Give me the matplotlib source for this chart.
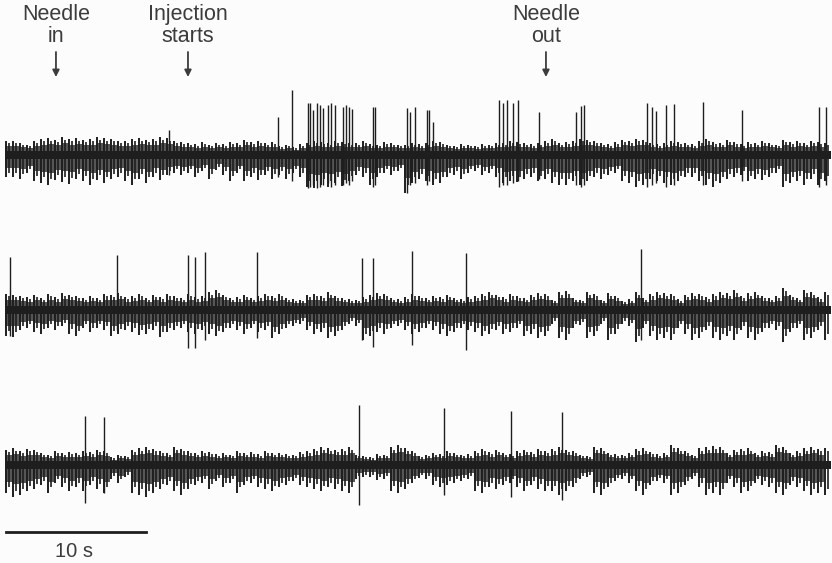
import numpy as np
import matplotlib.pyplot as plt

# Three consecutive sweeps of the same unit recording, ~59 s each.
# Background activity: peak excursion above / below baseline in 0.5 s bins.
BIN = 0.5

sweep1_up = [14, 14, 12, 10, 14, 16, 17, 15, 18, 16, 17, 15, 16, 18, 17, 16, 14,
             14, 16, 17, 15, 16, 18, 17, 14, 13, 12, 11, 13, 10, 12, 11, 13, 12,
             15, 13, 14, 12, 13, 9, 10, 8, 11, 12, 14, 13, 12, 14, 13, 12,
             12, 14, 11, 10, 13, 12, 10, 10, 12, 11, 12, 14, 13, 10, 9, 11,
             10, 9, 11, 10, 12, 12, 14, 13, 12, 11, 12, 14, 16, 12, 13, 14,
             16, 15, 14, 12, 11, 13, 15, 14, 16, 15, 12, 11, 12, 14, 13, 12, 11,
             14, 16, 13, 12, 15, 13, 11, 13, 12, 14, 12, 10, 15, 13, 14, 12, 14, 13, 12]
sweep1_down = [22, 22, 24, 18, 26, 28, 30, 25, 27, 29, 24, 26, 30, 25, 28, 24, 22,
               26, 30, 24, 28, 22, 25, 20, 18, 20, 18, 22, 16, 24, 15, 20, 26, 18,
               26, 22, 25, 20, 24, 20, 24, 18, 22, 32, 33, 30, 32, 28, 31, 26,
               20, 22, 30, 22, 18, 20, 16, 38, 28, 24, 26, 30, 28, 22, 20, 24,
               18, 16, 20, 18, 22, 28, 26, 27, 24, 22, 26, 24, 28, 30, 30, 26,
               30, 26, 22, 24, 20, 18, 26, 28, 32, 30, 24, 26, 28, 30, 26, 22, 22,
               26, 30, 32, 28, 24, 22, 20, 26, 24, 25, 22, 18, 32, 28, 26, 30, 24, 30, 26]

sweep2_up = [16, 15, 14, 13, 15, 12, 16, 13, 17, 15, 14, 12, 14, 12, 16, 15, 17, 13,
             14, 16, 12, 15, 13, 16, 14, 12, 16, 13, 14, 18, 20, 15, 12, 13, 15, 12,
             14, 16, 14, 16, 12, 11, 10, 15, 16, 14, 18, 14, 12, 11, 10, 13, 15, 17,
             16, 12, 11, 13, 16, 14, 12, 14, 13, 15, 12, 11, 13, 14, 16, 18, 15, 13,
             16, 14, 12, 15, 17, 16, 10, 18, 19, 12, 10, 18, 16, 10, 17, 14, 9, 11,
             18, 12, 16, 18, 17, 16, 11, 15, 17, 16, 13, 16, 18, 17, 20, 14, 17, 18,
             14, 12, 14, 22, 15, 12, 20, 18, 13, 18]
sweep2_down = [26, 27, 20, 18, 22, 24, 18, 20, 16, 24, 26, 18, 22, 18, 20, 26, 24, 20,
               22, 25, 24, 20, 27, 22, 20, 18, 22, 24, 20, 24, 26, 22, 18, 20, 24, 18,
               22, 20, 28, 24, 18, 16, 14, 20, 24, 22, 28, 26, 20, 14, 16, 30, 26, 22,
               24, 18, 16, 20, 24, 22, 18, 20, 24, 26, 22, 18, 20, 22, 26, 24, 20, 24,
               22, 18, 26, 24, 28, 26, 14, 28, 30, 18, 15, 28, 26, 14, 30, 24, 14, 16,
               32, 18, 26, 30, 28, 30, 18, 24, 30, 28, 20, 28, 30, 26, 30, 20, 28, 30,
               22, 18, 20, 32, 22, 18, 30, 28, 20, 30]

sweep3_up = [15, 17, 14, 16, 15, 12, 10, 14, 12, 13, 12, 14, 13, 15, 14, 8, 10, 9,
             15, 17, 18, 16, 14, 12, 18, 16, 14, 12, 14, 13, 11, 12, 10, 14, 12, 13,
             11, 14, 12, 12, 11, 10, 13, 14, 16, 18, 17, 15, 16, 18, 10, 9, 8, 11,
             10, 18, 20, 17, 14, 9, 10, 12, 11, 14, 12, 10, 11, 14, 16, 13, 15, 12,
             11, 14, 15, 13, 16, 14, 16, 18, 15, 14, 10, 9, 18, 17, 12, 11, 10, 12,
             16, 17, 13, 11, 12, 20, 17, 14, 10, 17, 18, 19, 18, 12, 15, 16, 17, 12,
             14, 13, 20, 18, 12, 14, 17, 18, 16, 17]
sweep3_down = [28, 32, 30, 26, 24, 20, 28, 18, 22, 26, 22, 26, 20, 24, 28, 14, 18, 12,
               28, 30, 32, 28, 24, 20, 26, 30, 24, 20, 18, 24, 16, 22, 18, 28, 20, 18,
               22, 24, 26, 22, 20, 16, 20, 22, 24, 26, 22, 24, 26, 28, 14, 12, 12, 15,
               14, 26, 28, 24, 18, 13, 14, 20, 22, 20, 18, 16, 14, 26, 28, 22, 24, 20,
               18, 22, 26, 20, 24, 26, 26, 30, 26, 22, 14, 12, 28, 30, 22, 16, 14, 18,
               26, 30, 20, 16, 18, 30, 28, 20, 14, 22, 30, 28, 30, 18, 22, 28, 26, 18,
               20, 22, 28, 30, 20, 22, 26, 30, 28, 30]

# Large unit spikes: time (s), peak above baseline, trough below baseline
sweep1_spike_t = [11.71, 19.5, 20.5, 21.64, 21.79, 22.0, 22.29, 22.5, 22.71, 23.07,
                  23.29, 23.57, 24.14, 24.36, 24.57, 24.79, 26.29, 26.43, 28.71, 28.93,
                  29.29, 30.14, 30.29, 30.57, 35.29, 35.57, 35.86, 36.29, 36.64, 38.14,
                  40.79, 41.14, 41.36, 45.86, 46.21, 46.5, 47.21, 47.79, 49.86, 52.64,
                  58.14, 58.64]
sweep1_spike_up = [25, 38, 65, 52, 52, 45, 52, 50, 47, 50, 52, 50, 48, 50, 48, 46,
                   48, 48, 47, 43, 48, 45, 45, 33, 55, 52, 55, 52, 55, 43, 43, 49,
                   50, 52, 48, 44, 50, 51, 53, 45, 48, 48]
sweep1_spike_down = [20, 22, 26, 33, 32, 30, 33, 32, 30, 28, 32, 30, 30, 28, 30, 26,
                     32, 30, 38, 30, 28, 30, 26, 24, 32, 30, 30, 28, 26, 24, 30, 32,
                     30, 32, 30, 28, 32, 30, 30, 26, 32, 30]

sweep2_spike_t = [0.36, 8.0, 13.07, 13.57, 14.29, 18.0, 25.5, 26.29, 29.07, 32.93, 45.43]
sweep2_spike_up = [53, 55, 55, 53, 58, 58, 52, 52, 59, 57, 61]
sweep2_spike_down = [26, 20, 38, 38, 30, 28, 30, 37, 35, 40, 30]

sweep3_spike_t = [5.71, 7.07, 25.29, 31.36, 36.14, 39.79]
sweep3_spike_up = [49, 48, 60, 57, 54, 53]
sweep3_spike_down = [38, 28, 40, 30, 32, 35]

# Event markers (s, sweep 1 time base) and scale bar
event_t = [3.64, 13.07, 38.64]
event_labels = ["Needle\nin", "Injection\nstarts", "Needle\nout"]
scale_len = 10

ink = "#1e1e1e"
text_col = "#3c3c3c"
core = 4          # dense baseline band half-width
spacing = 155     # vertical distance between sweeps

fig = plt.figure(figsize=(8.32, 5.63), dpi=100, facecolor="#fcfcfc")
ax = fig.add_axes([0, 0, 1, 1])
ax.set_facecolor("#fcfcfc")
ax.set_xlim(-5 / 14, 827 / 14)
ax.set_ylim(155 - 563, 155)
ax.axis("off")

sweeps = [
    (sweep1_up, sweep1_down, sweep1_spike_t, sweep1_spike_up, sweep1_spike_down),
    (sweep2_up, sweep2_down, sweep2_spike_t, sweep2_spike_up, sweep2_spike_down),
    (sweep3_up, sweep3_down, sweep3_spike_t, sweep3_spike_up, sweep3_spike_down),
]

for k, (up, down, st, sup, sdn) in enumerate(sweeps):
    base = -k * spacing
    up = np.array(up, dtype=float)
    down = np.array(down, dtype=float)
    tb = np.arange(len(up)) * BIN
    # envelope of the background activity, then vertical strokes inside it
    ax.fill_between(tb, base - down * 0.6, base + up * 0.65, step="post",
                    color=ink, alpha=0.75, lw=0)
    ax.vlines(tb + 0.06, base - down, base + up, color=ink, lw=1.4)
    ax.vlines(tb + 0.31, base - down * 0.8, base + up * 0.85, color=ink, lw=1.2)
    ax.fill_between([tb[0], tb[-1] + BIN], base - core, base + core, color=ink, lw=0)
    ax.vlines(st, base - np.array(sdn), base + np.array(sup), color=ink, lw=1.0)

# event labels with arrows
for et, lab in zip(event_t, event_labels):
    ax.text(et, 155 - 4, lab, ha="center", va="top", fontsize=15.5,
            family="Liberation Sans", color=text_col, linespacing=1.05)
    ax.annotate("", xy=(et, 155 - 77), xytext=(et, 155 - 52),
                arrowprops=dict(arrowstyle="-|>", color=text_col, lw=1.3,
                                mutation_scale=10, shrinkA=0, shrinkB=0))

# time scale bar
ax.plot([0.1, 0.1 + scale_len], [155 - 532, 155 - 532], color=ink, lw=2)
ax.text(0.1 + scale_len / 2 - 0.2, 155 - 542, "10 s", ha="center", va="top",
        fontsize=14.5, family="Liberation Sans", color=text_col)

fig.savefig("out.png", dpi=100, facecolor=fig.get_facecolor())
